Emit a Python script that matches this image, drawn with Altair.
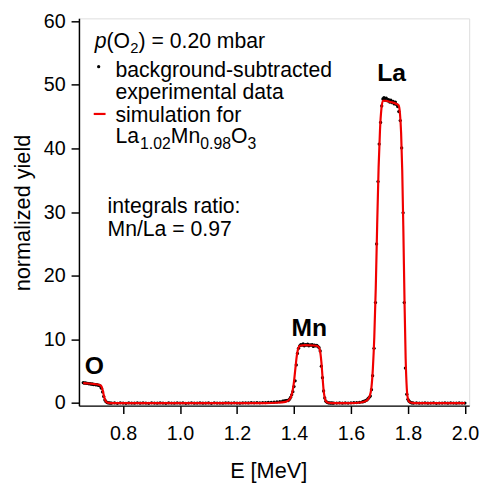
import altair as alt
import pandas as pd

# ---------------- data ----------------
# background-subtracted experimental data (energy in MeV, normalized yield)
exp_E = [
    0.660, 0.664, 0.668, 0.672, 0.676, 0.680, 0.684, 0.688, 0.692, 0.696,
    0.700, 0.704, 0.708, 0.712, 0.716, 0.720, 0.724, 0.728, 0.732, 0.736,
    0.740, 0.744, 0.748, 0.752, 0.756, 0.760,
    0.77, 0.78, 0.79, 0.80, 0.81, 0.82, 0.83, 0.84, 0.85, 0.86,
    0.87, 0.88, 0.89, 0.90, 0.91, 0.92, 0.93, 0.94, 0.95, 0.96,
    0.97, 0.98, 0.99, 1.00, 1.01, 1.02, 1.03, 1.04, 1.05, 1.06,
    1.07, 1.08, 1.09, 1.10, 1.11, 1.12, 1.13, 1.14, 1.15, 1.16,
    1.17, 1.18, 1.19, 1.20, 1.21, 1.22, 1.23, 1.24, 1.25, 1.26,
    1.27, 1.28, 1.29, 1.30, 1.31, 1.32, 1.33, 1.34, 1.35, 1.36,
    1.364, 1.368, 1.372, 1.376, 1.380, 1.384, 1.388, 1.392, 1.396, 1.400,
    1.404, 1.408, 1.412, 1.416, 1.420, 1.424, 1.428, 1.432, 1.436, 1.440,
    1.444, 1.448, 1.452, 1.456, 1.460, 1.464, 1.468, 1.472, 1.476, 1.480,
    1.484, 1.488, 1.492, 1.496, 1.500, 1.504, 1.508, 1.512, 1.516, 1.520,
    1.524, 1.528, 1.532, 1.536, 1.540,
    1.55, 1.56, 1.57, 1.58, 1.59, 1.60, 1.61, 1.62, 1.63, 1.64,
    1.644, 1.648, 1.652, 1.656, 1.660, 1.664, 1.668, 1.672, 1.676, 1.681,
    1.686, 1.690, 1.695, 1.699, 1.704, 1.708, 1.712, 1.716, 1.720, 1.724,
    1.728, 1.732, 1.736, 1.740, 1.744, 1.748, 1.752, 1.756, 1.760, 1.764,
    1.768, 1.773, 1.778, 1.783, 1.787, 1.791, 1.796, 1.800, 1.804, 1.808,
    1.812, 1.816, 1.820,
    1.83, 1.84, 1.85, 1.86, 1.87, 1.88, 1.89, 1.90, 1.91, 1.92,
    1.93, 1.94, 1.95, 1.96, 1.97, 1.98, 1.99, 2.00,
]
exp_Y = [
    3.20, 3.12, 3.18, 3.08, 3.10, 3.02, 3.05, 2.98, 3.00, 2.92,
    2.95, 2.88, 2.90, 2.82, 2.78, 2.65, 2.35, 1.75, 1.05, 0.50,
    0.22, 0.08, 0.03, 0.02, -0.02, 0.01,
    0.02, -0.03, 0.05, 0.00, -0.04, 0.03, 0.01, -0.02, 0.04, -0.01,
    0.02, 0.00, -0.03, 0.04, 0.01, -0.02, 0.03, 0.00, -0.04, 0.02,
    0.01, -0.02, 0.03, 0.00, 0.02, -0.03, 0.01, 0.04, -0.01, 0.00,
    0.03, -0.02, 0.01, 0.02, -0.03, 0.04, 0.00, 0.01, -0.02, 0.03,
    0.02, 0.00, 0.04, 0.01, -0.02, 0.03, 0.05, 0.02, 0.06, 0.04,
    0.07, 0.05, 0.09, 0.08, 0.12, 0.10, 0.15, 0.18, 0.22, 0.30,
    0.32, 0.35, 0.38, 0.42, 0.40, 0.60, 0.90, 1.30, 1.80, 2.60,
    3.50, 6.00, 7.80, 8.60, 9.00, 9.20, 9.10, 9.30, 9.00, 9.20,
    9.10, 9.25, 9.00, 9.15, 9.10, 9.20, 8.90, 9.10, 9.00, 9.05,
    8.90, 8.70, 8.20, 5.80, 4.00, 1.90, 0.80, 0.30, 0.12, 0.05,
    0.02, 0.00, 0.03, -0.02, 0.01,
    0.00, 0.02, -0.02, 0.03, 0.01, 0.04, 0.06, 0.08, 0.12, 0.18,
    0.25, 0.30, 0.40, 0.50, 0.70, 0.90, 1.10, 2.10, 4.30, 8.60,
    15.8, 25.0, 34.8, 40.7, 44.1, 46.7, 47.8, 48.0, 47.6, 47.9,
    47.5, 47.7, 47.3, 47.6, 47.2, 47.4, 47.0, 47.3, 46.9, 46.6,
    45.8, 44.4, 40.1, 29.9, 15.8, 5.5, 1.4, 0.6, 0.3, 0.15,
    0.05, 0.02, 0.00,
    0.02, -0.02, 0.01, 0.03, -0.01, 0.00, 0.02, -0.03, 0.01, 0.00,
    0.02, -0.02, 0.03, 0.00, -0.01, 0.02, 0.00, 0.01,
]

# simulation for La1.02Mn0.98O3
sim_E = [
    0.660, 0.680, 0.700, 0.715, 0.722, 0.726, 0.730, 0.734, 0.738, 0.743,
    0.750, 0.760, 1.300, 1.340, 1.370, 1.385, 1.393, 1.399, 1.405, 1.410,
    1.415, 1.420, 1.440, 1.470, 1.485, 1.491, 1.496, 1.500, 1.504, 1.508,
    1.513, 1.520, 1.535, 1.600, 1.635, 1.655, 1.665, 1.672, 1.677, 1.682,
    1.687, 1.692, 1.697, 1.702, 1.707, 1.712, 1.720, 1.740, 1.760, 1.767,
    1.772, 1.776, 1.780, 1.784, 1.788, 1.792, 1.796, 1.800, 1.806, 1.815,
    1.830, 2.000,
]
sim_Y = [
    3.15, 3.08, 2.98, 2.88, 2.75, 2.40, 1.70, 0.90, 0.40, 0.12,
    0.03, 0.00, 0.00, 0.05, 0.20, 0.60, 1.50, 3.00, 5.50, 7.50,
    8.60, 9.00, 9.10, 9.05, 8.90, 8.30, 6.50, 4.20, 2.00, 0.80,
    0.25, 0.06, 0.00, 0.00, 0.10, 0.40, 1.00, 2.50, 5.50, 10.5,
    18.0, 28.0, 37.0, 43.0, 46.3, 47.5, 47.5, 47.3, 47.0, 46.8,
    45.5, 42.5, 36.5, 27.0, 16.0, 7.0, 2.3, 0.7, 0.15, 0.03,
    0.00, 0.00,
]

x_ticks = [0.8, 1.0, 1.2, 1.4, 1.6, 1.8, 2.0]
y_ticks = [0, 10, 20, 30, 40, 50, 60]

peak_names = ["O", "Mn", "La"]
peak_E = [0.665, 1.391, 1.692]
peak_Y = [4.5, 10.6, 50.6]

FONT = "Liberation Sans"
RED = "#f00000"

exp_df = pd.DataFrame({"E": exp_E, "Y": exp_Y})
sim_df = pd.DataFrame({"E": sim_E, "Y": sim_Y})
peak_df = pd.DataFrame({"E": peak_E, "Y": peak_Y, "name": peak_names})
one = pd.DataFrame({"k": [0]})

xs = alt.Scale(domain=[0.645, 2.015], nice=False, zero=False)
ys = alt.Scale(domain=[-0.4, 60.45], nice=False, zero=False)

x_axis = alt.Axis(
    values=x_ticks, format=".1f", title="E [MeV]", grid=False,
    tickSize=8, tickWidth=1.5, tickColor="black",
    domainColor="black", domainWidth=1.5,
    labelFont=FONT, labelFontSize=20, labelColor="black", labelPadding=10,
    titleFont=FONT, titleFontSize=22, titleFontWeight="normal", titleColor="black",
    titleX=192, titleY=73, titleBaseline="alphabetic", titleAlign="center",
)
y_axis = alt.Axis(
    values=y_ticks, format="d", title="normalized yield", grid=False,
    tickSize=8, tickWidth=1.5, tickColor="black",
    domainColor="black", domainWidth=1.5,
    labelFont=FONT, labelFontSize=20, labelColor="black", labelPadding=6,
    titleFont=FONT, titleFontSize=22, titleFontWeight="normal", titleColor="black",
    titleX=-57, titleY=197, titleBaseline="middle", titleAlign="center", titleAngle=270,
)

dots = alt.Chart(exp_df).mark_circle(size=11, color="black", opacity=1).encode(
    x=alt.X("E:Q", scale=xs, axis=x_axis),
    y=alt.Y("Y:Q", scale=ys, axis=y_axis),
)
line = alt.Chart(sim_df).mark_line(color=RED, strokeWidth=2.2, interpolate="monotone").encode(
    x=alt.X("E:Q", scale=xs),
    y=alt.Y("Y:Q", scale=ys),
    order="E:Q",
)
peaks = alt.Chart(peak_df).mark_text(
    font=FONT, fontSize=25, fontWeight="bold", color="black",
    align="left", baseline="alphabetic",
).encode(
    x=alt.X("E:Q", scale=xs),
    y=alt.Y("Y:Q", scale=ys),
    text="name:N",
)


def label(txt, x, y, size=21.5, style="normal", weight="normal"):
    return alt.Chart(one).mark_text(
        text=txt, font=FONT, fontSize=size, fontStyle=style, fontWeight=weight,
        color="black", align="left", baseline="alphabetic",
    ).encode(x=alt.value(x), y=alt.value(y))


# pixel offsets relative to the plot's top-left corner (legend / notes)
texts = [
    label("p", 16, 30, style="italic"),
    label("(O", 28, 30),
    label("2", 52, 35, size=15),
    label(") = 0.20 mbar", 60.5, 30),
    label("background-subtracted", 37, 59),
    label("experimental data", 37, 82),
    label("simulation for", 37, 105),
    label("La", 37, 126),
    label("1.02", 62, 133, size=16),
    label("Mn", 93.2, 126),
    label("0.98", 123.1, 133, size=16),
    label("O", 154.2, 126),
    label("3", 171, 133, size=16),
    label("integrals ratio:", 29, 198),
    label("Mn/La = 0.97", 29, 221),
]

legend_dot = alt.Chart(one).mark_circle(size=11, color="black", opacity=1).encode(
    x=alt.value(20), y=alt.value(49)
)
legend_line = alt.Chart(one).mark_rule(color=RED, strokeWidth=2.2).encode(
    x=alt.value(15), x2=alt.value(27), y=alt.value(97)
)

chart = alt.layer(dots, line, peaks, legend_dot, legend_line, *texts).properties(
    width=396,
    height=393,
    autosize=alt.AutoSizeParams(type="none"),
    padding={"left": 72, "top": 7, "right": 12, "bottom": 76},
).configure_view(stroke="black", strokeWidth=1.5).configure(background="white")

chart.save("out.html", embed_options={"renderer": "svg", "actions": False})
